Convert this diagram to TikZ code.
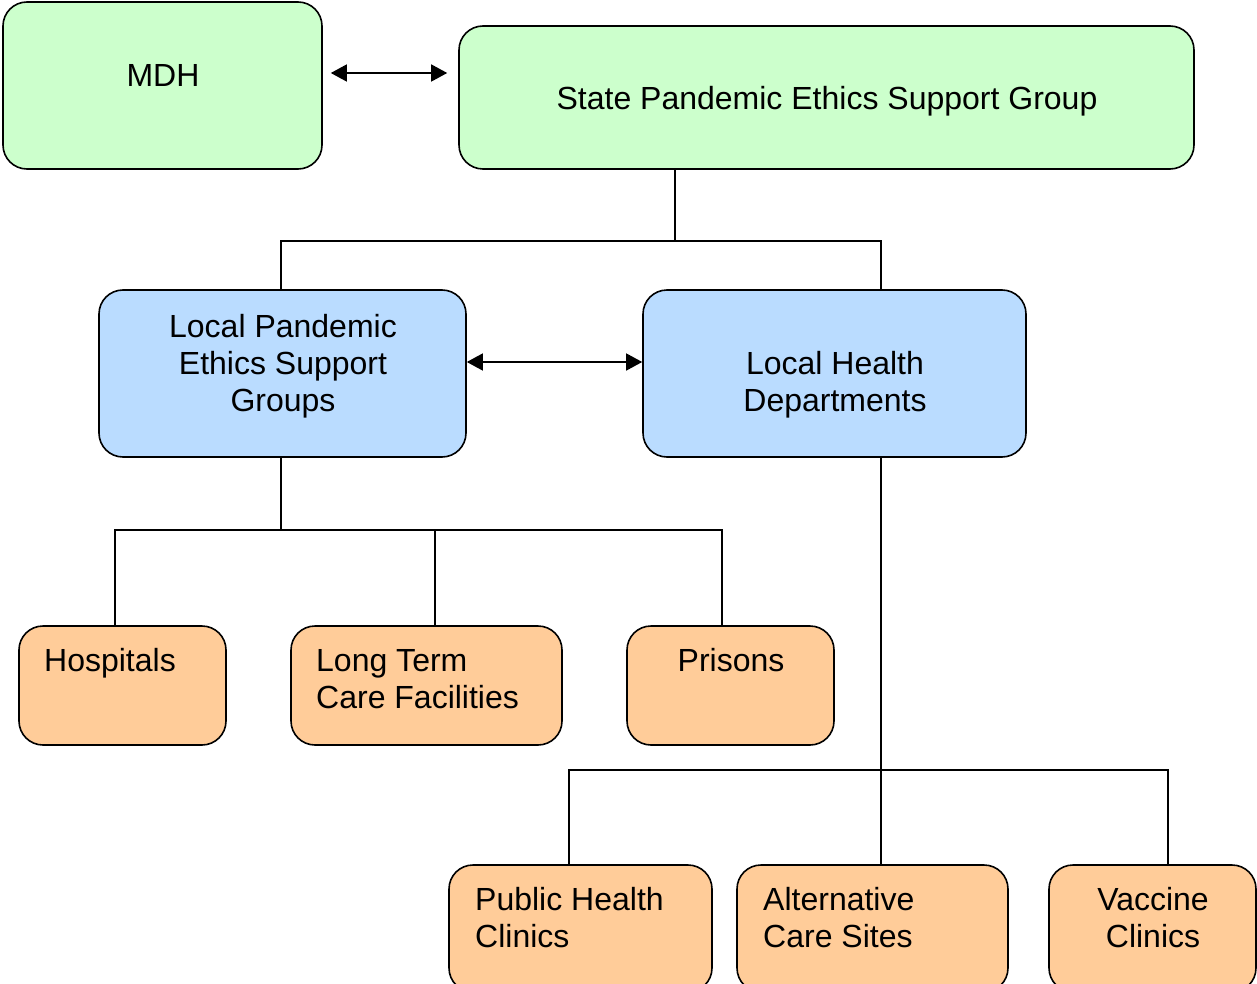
\documentclass[tikz,border=0pt]{standalone}
\usepackage{fontspec}
\setmainfont{Liberation Sans}
\usetikzlibrary{arrows.meta}

\definecolor{stategreen}{HTML}{CCFFCC}
\definecolor{localblue}{HTML}{BADCFF}
\definecolor{siteorange}{HTML}{FFCC99}

\tikzset{
	box/.style = {draw, line width=1.6pt, rounded corners=24pt, inner sep=0pt},
	greenbox/.style = {box, fill=stategreen},
	bluebox/.style = {box, fill=localblue},
	orangebox/.style = {box, fill=siteorange},
	txt/.style = {font=\fontsize{32}{37}\selectfont, align=center, inner sep=0pt, anchor=base},
	link/.style = {line width=1.4pt},
	both/.style = {link, {Triangle[length=16pt,width=17pt]}-{Triangle[length=16pt,width=17pt]}}
}

\begin{document}
\begin{tikzpicture}[x=1pt, y=-1pt]
	\useasboundingbox (0,0) rectangle (1257,984);
	\clip (0,0) rectangle (1257,984);

	% state level
	\node[greenbox, minimum width=319, minimum height=167] (mdh) at (162.5,85.5) {};
	\node[greenbox, minimum width=735, minimum height=143] (state) at (826.5,97.5) {};
	\node[txt] (mdht) at (163,86.5) {MDH};
	\node[txt] (statet) at (827,109.5) {State Pandemic Ethics Support Group};

	% local level
	\node[bluebox, minimum width=367, minimum height=167] (lpesg) at (282.5,373.5) {};
	\node[bluebox, minimum width=383, minimum height=167] (lhd) at (834.5,373.5) {};
	\node[txt] (lpesgt) at (283,411.5) {Local Pandemic\\Ethics Support\\Groups};
	\node[txt] (lhdt) at (835,411.5) {Local Health\\Departments};

	% facilities
	\node[orangebox, minimum width=207, minimum height=119] (hosp) at (122.5,685.5) {};
	\node[orangebox, minimum width=271, minimum height=119] (ltc) at (426.5,685.5) {};
	\node[orangebox, minimum width=207, minimum height=119] (pris) at (730.5,685.5) {};
	\node[txt, anchor=base west] (hospt) at (44,671.5) {Hospitals};
	\node[txt, align=left, anchor=base west] (ltct) at (316,708.5) {Long Term\\Care Facilities};
	\node[txt] (prist) at (731,671.5) {Prisons};

	% sites
	\node[orangebox, minimum width=263, minimum height=127] (phc) at (580.5,928.5) {};
	\node[orangebox, minimum width=271, minimum height=127] (acs) at (872.5,928.5) {};
	\node[orangebox, minimum width=207, minimum height=127] (vac) at (1152.5,928.5) {};
	\node[txt, align=left, anchor=base west] (phct) at (475,947.5) {Public Health\\Clinics};
	\node[txt, align=left, anchor=base west] (acst) at (763,947.5) {Alternative\\Care Sites};
	\node[txt] (vact) at (1153,947.5) {Vaccine\\Clinics};

	% bus lines
	\coordinate (stbus) at (675,241);
	\coordinate (lcbus) at (281,530);
	\coordinate (lhbus) at (881,770);
	\coordinate (hospx) at (115,530);
	\coordinate (ltcx) at (435,530);
	\coordinate (prisx) at (722,530);
	\coordinate (phcx) at (569,770);
	\coordinate (vacx) at (1168,770);

	\draw[link] (stbus |- state.south) -- (stbus);
	\draw[link] (lpesg.north -| lcbus) |- (stbus) -| (lhd.north -| lhbus);
	\draw[link] (lpesg.south -| lcbus) -- (lcbus);
	\draw[link] (hosp.north -| hospx) |- (lcbus) -| (pris.north -| prisx);
	\draw[link] (ltc.north -| ltcx) -- (ltcx);
	\draw[link] (lhd.south -| lhbus) -- (acs.north -| lhbus);
	\draw[link] (phc.north -| phcx) |- (lhbus) -| (vac.north -| vacx);

	% arrows
	\draw[both] ([xshift=8pt, yshift=12.5pt]mdh.east) -- ([xshift=-11pt, yshift=24.5pt]state.west);
	\draw[both] ([yshift=11.5pt]lpesg.east) -- ([yshift=11.5pt]lhd.west);
\end{tikzpicture}
\end{document}
